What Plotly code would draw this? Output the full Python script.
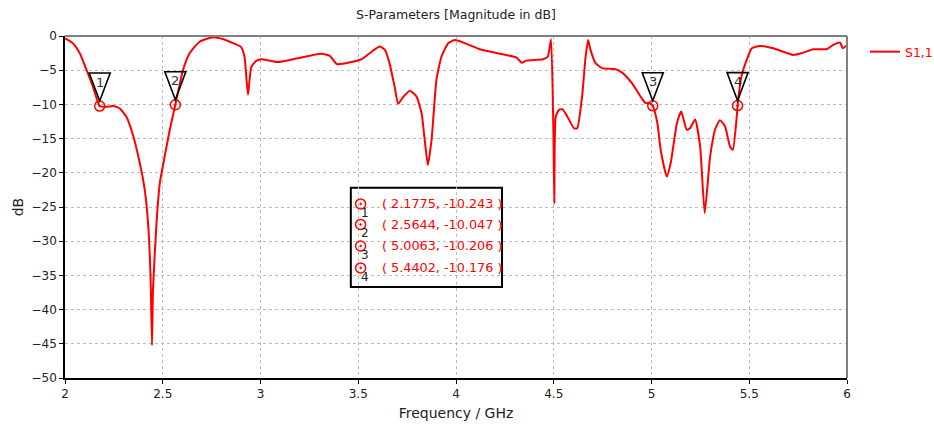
import plotly.graph_objects as go

# ---- data ----
freq = [2.000, 2.04, 2.075, 2.11, 2.143, 2.1775, 2.212, 2.246, 2.28, 2.314, 2.348, 2.39, 2.408, 2.425,
        2.437, 2.445, 2.45, 2.468, 2.485, 2.51, 2.536, 2.5644, 2.604, 2.638, 2.69, 2.757, 2.81, 2.86,
        2.9, 2.918, 2.936, 2.953, 2.98, 3.005, 3.09, 3.19, 3.31, 3.355, 3.39, 3.483, 3.517, 3.568,
        3.61, 3.636, 3.66, 3.686, 3.704, 3.73, 3.764, 3.798, 3.824, 3.84, 3.856, 3.875, 3.9, 3.926,
        3.96, 3.994, 4.054, 4.122, 4.225, 4.31, 4.335, 4.36, 4.445, 4.47, 4.486, 4.498, 4.503, 4.51,
        4.527, 4.544, 4.57, 4.604, 4.62, 4.645, 4.663, 4.676, 4.688, 4.714, 4.748, 4.816, 4.85, 4.9,
        4.944, 4.969, 4.99, 5.0063, 5.03, 5.047, 5.078, 5.098, 5.13, 5.152, 5.18, 5.197, 5.223,
        5.249, 5.272, 5.3, 5.325, 5.35, 5.376, 5.402, 5.416, 5.436, 5.4402, 5.46, 5.487, 5.513,
        5.555, 5.623, 5.726, 5.777, 5.828, 5.896, 5.93, 5.965, 5.978, 6.0]
s11_db = [-0.35, -1.05, -2.5, -4.95, -7.4, -10.243, -10.35, -10.25, -10.6, -11.8, -14.5, -19.6, -22.5, -27.4,
          -34.6, -45.2, -37.1, -27.4, -21.5, -17.6, -13.7, -10.047, -4.95, -2.5, -0.8, -0.18, -0.47, -1.05,
          -1.6, -3.0, -8.6, -4.5, -3.6, -3.4, -3.8, -3.25, -2.6, -2.9, -4.1, -3.7, -3.4, -2.3,
          -1.55, -2.0, -4.0, -7.4, -9.9, -8.9, -8.0, -8.85, -11.3, -15.2, -18.85, -15.2, -6.4, -3.0,
          -1.05, -0.6, -1.15, -1.93, -2.6, -3.15, -3.9, -3.6, -3.4, -3.0, -0.47, -13.7, -24.5, -11.8,
          -10.8, -10.7, -11.8, -13.5, -13.5, -8.85, -3.0, -0.57, -2.03, -3.98, -4.7, -4.86, -5.35, -6.9,
          -8.85, -9.8, -9.8, -10.206, -12.75, -16.65, -20.55, -18.6, -12.75, -11.05, -13.7, -13.5, -12.2,
          -16.2, -25.9, -17.6, -13.7, -12.3, -13.2, -16.2, -16.65, -11.8, -10.176, -5.9, -3.5, -1.8,
          -1.45, -1.8, -2.76, -2.43, -1.93, -1.93, -1.3, -0.96, -1.8, -1.3]

marker_ids = ["1", "2", "3", "4"]
marker_f = [2.1775, 2.5644, 5.0063, 5.4402]
marker_db = [-10.243, -10.047, -10.206, -10.176]

x_ticks = [2, 2.5, 3, 3.5, 4, 4.5, 5, 5.5, 6]
x_labels = ["2", "2.5", "3", "3.5", "4", "4.5", "5", "5.5", "6"]
y_ticks = [0, -5, -10, -15, -20, -25, -30, -35, -40, -45, -50]

FONT = "DejaVu Sans"
RED = "#ff0000"
XR = [2, 6]
YR = [-50, 0]

fig = go.Figure()

fig.add_trace(go.Scatter(
    x=freq, y=s11_db, mode="lines", name="S1,1",
    line=dict(color=RED, width=2, shape="spline", smoothing=0.5),
))

# marker points on curve
fig.add_trace(go.Scatter(
    x=marker_f, y=marker_db, mode="markers", showlegend=False, hoverinfo="skip",
    marker=dict(symbol="circle-open-dot", size=10, color=RED, line=dict(width=1.5, color=RED)),
))

shapes = []
annotations = []

# triangle flags above markers
for mid, mf, md in zip(marker_ids, marker_f, marker_db):
    shapes.append(dict(
        type="path", xref="x", yref="y", xsizemode="pixel", ysizemode="pixel",
        xanchor=mf, yanchor=md, path="M-10.5,33 L10.5,33 L0,5 Z",
        line=dict(color="black", width=1.6), fillcolor="rgba(0,0,0,0)", layer="above",
    ))
    annotations.append(dict(
        x=mf, y=md, xref="x", yref="y", text=mid, showarrow=False, yshift=24,
        font=dict(family=FONT, size=13, color="#333333"),
    ))

# marker info box (paper coords)
bx0, bx1, by0, by1 = 0.3655, 0.5588, 0.266, 0.556
shapes.append(dict(type="rect", xref="paper", yref="paper", x0=bx0, x1=bx1, y0=by0, y1=by1,
                   line=dict(color="black", width=2), fillcolor="white", layer="between"))
row_y = [0.509, 0.449, 0.386, 0.322]
circ_px = 0.378
box_cx = [XR[0] + circ_px * (XR[1] - XR[0])] * len(row_y)
box_cy = [YR[0] + ry * (YR[1] - YR[0]) for ry in row_y]
fig.add_trace(go.Scatter(
    x=box_cx, y=box_cy, mode="markers", showlegend=False, hoverinfo="skip",
    marker=dict(symbol="circle-open-dot", size=10, color=RED, line=dict(width=1.5, color=RED)),
))
for mid, mf, md, ry in zip(marker_ids, marker_f, marker_db, row_y):
    annotations.append(dict(
        x=0.4026, y=ry, xref="paper", yref="paper", xanchor="left", yanchor="middle",
        text="( %.4f, %.3f )" % (mf, md), showarrow=False,
        font=dict(family=FONT, size=12.8, color=RED),
    ))
    annotations.append(dict(
        x=circ_px + 0.005, y=ry - 0.026, xref="paper", yref="paper", xanchor="center", yanchor="middle",
        text=mid, showarrow=False, font=dict(family=FONT, size=12, color="#222222"),
    ))

# gray top/right frame
shapes.append(dict(type="line", xref="paper", yref="paper", x0=0, x1=1, y0=1, y1=1,
                   line=dict(color="#808080", width=2)))
shapes.append(dict(type="line", xref="paper", yref="paper", x0=1, x1=1, y0=0, y1=1,
                   line=dict(color="#808080", width=2)))

fig.update_layout(
    width=934, height=427,
    margin=dict(l=65, r=87, t=36, b=49, autoexpand=False),
    paper_bgcolor="white", plot_bgcolor="white",
    font=dict(family=FONT, size=12, color="#222222"),
    title=dict(text="S-Parameters [Magnitude in dB]", x=0.5, xref="paper", y=1 - 15 / 427,
               yref="container", yanchor="middle", font=dict(family=FONT, size=12.5, color="#222222")),
    showlegend=True,
    legend=dict(x=1.023, y=0.997, xanchor="left", yanchor="top", bgcolor="rgba(0,0,0,0)",
                font=dict(family=FONT, size=12.5, color=RED), itemwidth=30),
    shapes=shapes, annotations=annotations,
)
fig.update_xaxes(
    range=XR, tickvals=x_ticks, ticktext=x_labels, showgrid=True, gridcolor="#bcbcbc", griddash="dot",
    gridwidth=1, showline=True, linecolor="black", linewidth=1.5, ticks="outside", ticklen=4,
    tickcolor="black", zeroline=False, title=dict(text="Frequency / GHz", standoff=8), automargin=False,
    tickfont=dict(family=FONT, size=12, color="#222222"),
)
fig.update_yaxes(
    range=YR, tickvals=y_ticks, showgrid=True, gridcolor="#bcbcbc", griddash="dot", gridwidth=1,
    showline=True, linecolor="black", linewidth=1.5, ticks="outside", ticklen=4, tickcolor="black",
    zeroline=False, title=dict(text="dB", standoff=5), automargin=False,
    tickfont=dict(family=FONT, size=12, color="#222222"),
)

fig.write_html("out.html")
